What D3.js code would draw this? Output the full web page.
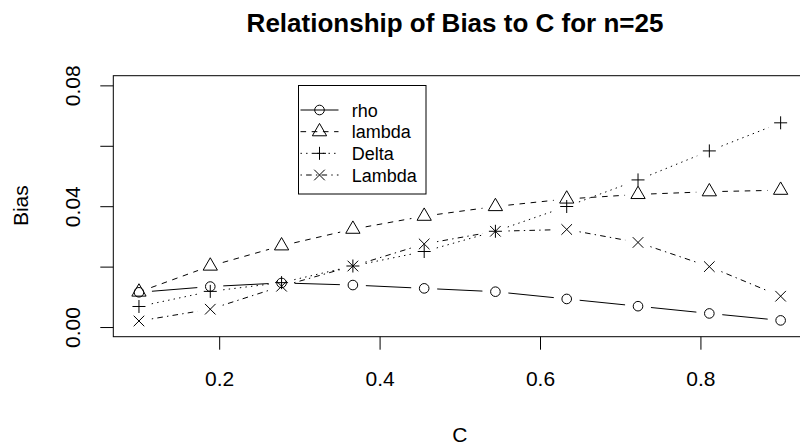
<!DOCTYPE html>
<html>
<head>
<meta charset="utf-8">
<script src="https://cdn.jsdelivr.net/npm/d3@7"></script>
<style>
	body { margin: 0; background: #fff; }
	text { font-family: "Liberation Sans", Arial, sans-serif; fill: #000; }
</style>
</head>
<body>
<div id="chart"></div>
<script>

///////////////////////////////////////////////////////////////////////////
////////////////////////////////// Data ///////////////////////////////////
///////////////////////////////////////////////////////////////////////////

var cValues = [0.1, 0.1889, 0.2778, 0.3667, 0.4556, 0.5444, 0.6333, 0.7222, 0.8111, 0.9];
var rho     = [0.0115, 0.0134, 0.0146, 0.0139, 0.0128, 0.0117, 0.0093, 0.0069, 0.0045, 0.0022];
var lambda  = [0.0116, 0.0202, 0.0269, 0.0324, 0.0367, 0.0399, 0.0424, 0.0439, 0.0448, 0.0453];
var Delta   = [0.0068, 0.0118, 0.0147, 0.0202, 0.0250, 0.0317, 0.0399, 0.0487, 0.0583, 0.0676];
var Lambda  = [0.0020, 0.0059, 0.0135, 0.0202, 0.0275, 0.0317, 0.0323, 0.0280, 0.0200, 0.0102];

var seriesNames = ["rho", "lambda", "Delta", "Lambda"];
var xTicks = [0.2, 0.4, 0.6, 0.8];
var yTicks = [0, 0.02, 0.04, 0.06, 0.08];
var yLabelled = [0, 0.04, 0.08];

///////////////////////////////////////////////////////////////////////////
//////////////////////////// Set up the svg ///////////////////////////////
///////////////////////////////////////////////////////////////////////////

var width = 800, height = 447;
var box = { left: 113.3, right: 806.3, top: 75.7, bottom: 336.7 };

var svg = d3.select("#chart").append("svg")
	.attr("width", width)
	.attr("height", height);

//R style 4% extension of the ranges
var xPad = (0.9 - 0.1) * 0.04,
	yPad = (0.08 - 0) * 0.04;

var x = d3.scaleLinear()
	.domain([0.1 - xPad, 0.9 + xPad])
	.range([box.left, box.right]);

var y = d3.scaleLinear()
	.domain([0 - yPad, 0.08 + yPad])
	.range([box.bottom, box.top]);

var series = [
	{ name: "rho",    values: rho,    dash: null,               pch: "circle" },
	{ name: "lambda", values: lambda, dash: "5.6,5.6",          pch: "triangle" },
	{ name: "Delta",  values: Delta,  dash: "1.4,4.2",          pch: "plus" },
	{ name: "Lambda", values: Lambda, dash: "1.4,4.2,5.6,4.2",  pch: "cross" }
];

///////////////////////////////////////////////////////////////////////////
///////////////////////////////// Axes ////////////////////////////////////
///////////////////////////////////////////////////////////////////////////

var xAxis = svg.append("g")
	.attr("transform", "translate(0," + box.bottom + ")")
	.call(d3.axisBottom(x).tickValues(xTicks).tickSize(13).tickPadding(0)
		.tickFormat(d3.format(".1f")));
xAxis.select(".domain").remove();
xAxis.selectAll("line").attr("stroke", "#000");
xAxis.selectAll("text")
	.attr("y", 49)
	.attr("dy", null)
	.style("font-size", "21px")
	.style("font-family", "Liberation Sans, Arial, sans-serif")
	.attr("fill", "#000");

var yAxis = svg.append("g")
	.attr("transform", "translate(" + box.left + ",0)")
	.call(d3.axisLeft(y).tickValues(yTicks).tickSize(13)
		.tickFormat(function(d) { return yLabelled.indexOf(d) > -1 ? d3.format(".2f")(d) : ""; }));
yAxis.select(".domain").remove();
yAxis.selectAll("line").attr("stroke", "#000");
yAxis.selectAll("text")
	.attr("transform", "rotate(-90)")
	.attr("x", 0)
	.attr("y", -33.3)
	.attr("dy", null)
	.attr("text-anchor", "middle")
	.style("font-size", "21px")
	.style("font-family", "Liberation Sans, Arial, sans-serif")
	.attr("fill", "#000");

//Plot box
svg.append("rect")
	.attr("x", box.left)
	.attr("y", box.top)
	.attr("width", box.right - box.left)
	.attr("height", box.bottom - box.top)
	.style("fill", "none")
	.style("stroke", "#000")
	.style("stroke-width", 1);

///////////////////////////////////////////////////////////////////////////
///////////////////////////////// Titles //////////////////////////////////
///////////////////////////////////////////////////////////////////////////

svg.append("text")
	.attr("x", 455)
	.attr("y", 31.5)
	.attr("text-anchor", "middle")
	.style("font-size", "26px")
	.style("font-weight", "bold")
	.text("Relationship of Bias to C for n=25");

svg.append("text")
	.attr("x", (box.left + box.right) / 2)
	.attr("y", 441.5)
	.attr("text-anchor", "middle")
	.style("font-size", "21px")
	.text("C");

svg.append("text")
	.attr("transform", "translate(28.3,205.7) rotate(-90)")
	.attr("text-anchor", "middle")
	.style("font-size", "21px")
	.text("Bias");

///////////////////////////////////////////////////////////////////////////
//////////////////////////// Symbols and lines ////////////////////////////
///////////////////////////////////////////////////////////////////////////

function symbolPath(type, cx, cy) {
	var p = d3.path();
	if (type === "circle") {
		p.moveTo(cx + 4.8, cy);
		p.arc(cx, cy, 4.8, 0, 2 * Math.PI);
	} else if (type === "triangle") {
		var R = 5.3;
		p.moveTo(cx, cy - 1.5551 * R);
		p.lineTo(cx + 1.3468 * R, cy + 0.7776 * R);
		p.lineTo(cx - 1.3468 * R, cy + 0.7776 * R);
		p.closePath();
	} else if (type === "plus") {
		p.moveTo(cx - 6.5, cy); p.lineTo(cx + 6.5, cy);
		p.moveTo(cx, cy - 6.5); p.lineTo(cx, cy + 6.5);
	} else if (type === "cross") {
		p.moveTo(cx - 5.3, cy - 5.3); p.lineTo(cx + 5.3, cy + 5.3);
		p.moveTo(cx - 5.3, cy + 5.3); p.lineTo(cx + 5.3, cy - 5.3);
	}
	return p.toString();
}

var gap = 13;

series.forEach(function(s) {
	var g = svg.append("g").attr("class", "series-" + s.name);

	//Type "b": line pieces that stop short of each point
	var segs = [];
	for (var i = 0; i < cValues.length - 1; i++) {
		var x0 = x(cValues[i]), y0 = y(s.values[i]),
			x1 = x(cValues[i + 1]), y1 = y(s.values[i + 1]);
		var len = Math.sqrt((x1 - x0) * (x1 - x0) + (y1 - y0) * (y1 - y0));
		if (len <= 2 * gap) continue;
		var ux = (x1 - x0) / len, uy = (y1 - y0) / len;
		segs.push([x0 + ux * gap, y0 + uy * gap, x1 - ux * gap, y1 - uy * gap]);
	}//for i

	g.selectAll(".seg")
		.data(segs)
		.enter().append("line")
		.attr("class", "seg")
		.attr("x1", function(d) { return d[0]; })
		.attr("y1", function(d) { return d[1]; })
		.attr("x2", function(d) { return d[2]; })
		.attr("y2", function(d) { return d[3]; })
		.style("stroke", "#000")
		.style("stroke-width", 1)
		.style("stroke-dasharray", s.dash);

	g.selectAll(".pt")
		.data(s.values)
		.enter().append("path")
		.attr("class", "pt")
		.attr("d", function(d, i) { return symbolPath(s.pch, x(cValues[i]), y(d)); })
		.style("fill", "none")
		.style("stroke", "#000")
		.style("stroke-width", 1);
});

///////////////////////////////////////////////////////////////////////////
///////////////////////////////// Legend //////////////////////////////////
///////////////////////////////////////////////////////////////////////////

var legend = svg.append("g").attr("class", "legend");

legend.append("rect")
	.attr("x", 298.5)
	.attr("y", 85.5)
	.attr("width", 127.5)
	.attr("height", 108.5)
	.style("fill", "#fff")
	.style("stroke", "#000")
	.style("stroke-width", 1);

var rowY = d3.scalePoint().domain(seriesNames).range([110, 175]);

series.forEach(function(s) {
	var ly = rowY(s.name);
	legend.append("line")
		.attr("x1", 300.5)
		.attr("x2", 338.5)
		.attr("y1", ly)
		.attr("y2", ly)
		.style("stroke", "#000")
		.style("stroke-width", 1)
		.style("stroke-dasharray", s.dash);
	legend.append("path")
		.attr("d", symbolPath(s.pch, 319.5, ly))
		.style("fill", "none")
		.style("stroke", "#000")
		.style("stroke-width", 1);
	legend.append("text")
		.attr("x", 351.7)
		.attr("y", ly + 6.5)
		.style("font-size", "18px")
		.text(s.name);
});

</script>
</body>
</html>
